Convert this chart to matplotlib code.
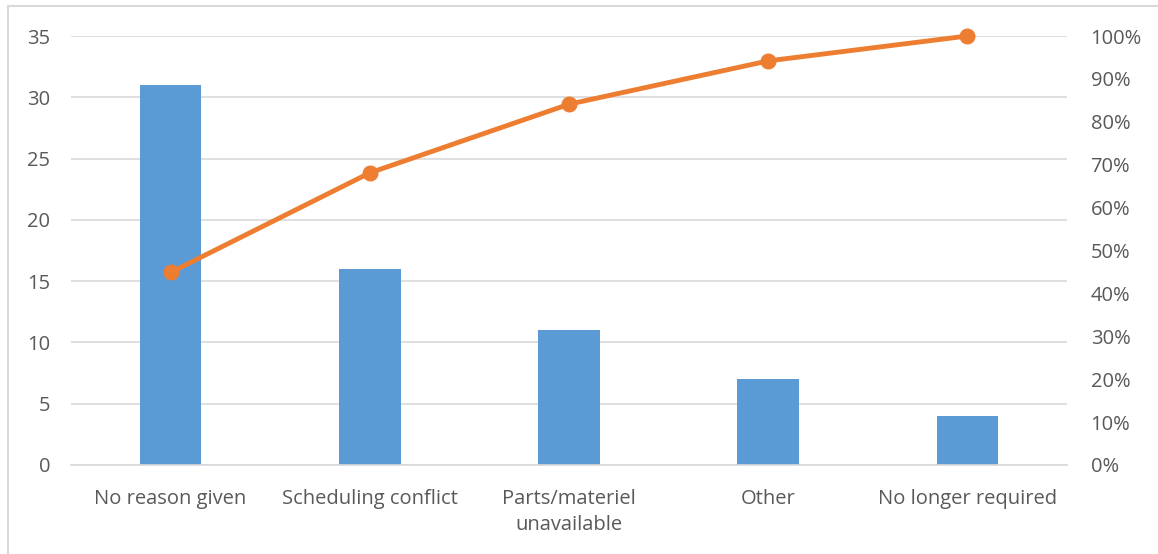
import matplotlib
matplotlib.use("Agg")
import matplotlib.pyplot as plt
from matplotlib.patches import Rectangle
from matplotlib.ticker import FuncFormatter, MultipleLocator

categories = ["No reason given", "Scheduling conflict", "Parts/materiel\nunavailable",
              "Other", "No longer required"]
counts = [31, 16, 11, 7, 4]
cumulative_pct = [0.449, 0.681, 0.841, 0.942, 1.0]

plt.rcParams['font.family'] = ['Open Sans', 'DejaVu Sans']
text_color = "#595959"
grid_color = "#d9d9d9"

fig = plt.figure(figsize=(11.58, 5.54), dpi=100)
fig.patches.append(Rectangle((8/1158, -0.01), 1.2, 1 - 6/554 + 0.01, transform=fig.transFigure,
                             fill=False, edgecolor="#d9d9d9", linewidth=1.5))

ax = fig.add_axes([71/1158, 1 - 465/554, (1067 - 71)/1158, (465 - 36)/554])
x = list(range(len(categories)))
ax.bar(x, counts, width=0.31, color="#5B9BD5", zorder=2)
ax.set_xlim(-0.5, len(categories) - 0.5)
ax.set_ylim(0, 35)
ax.yaxis.set_major_locator(MultipleLocator(5))
ax.grid(axis="y", color=grid_color, linewidth=1.2, zorder=0)
ax.set_axisbelow(True)
for s in ["top", "right", "left"]:
    ax.spines[s].set_visible(False)
ax.spines["bottom"].set_color(grid_color)
ax.spines["bottom"].set_linewidth(1.2)
ax.set_xticks(x)
ax.set_xticklabels(categories, fontsize=14.5, color=text_color, linespacing=1.45)
ax.tick_params(axis="x", length=0, pad=17)
ax.tick_params(axis="y", length=0, pad=15, labelsize=14.5, labelcolor=text_color)

ax2 = ax.twinx()
ax2.plot(x, cumulative_pct, color="#ED7D31", linewidth=3.5, marker="o", markersize=10.5,
         zorder=3, clip_on=False)
ax2.set_ylim(0, 1.0)
ax2.yaxis.set_major_locator(MultipleLocator(0.1))
ax2.yaxis.set_major_formatter(FuncFormatter(lambda v, p: f"{v*100:.0f}%"))
ax2.tick_params(axis="y", length=0, pad=17, labelsize=14.5, labelcolor=text_color)
for s in ["top", "right", "left", "bottom"]:
    ax2.spines[s].set_visible(False)

fig.savefig("out.png", dpi=100)
